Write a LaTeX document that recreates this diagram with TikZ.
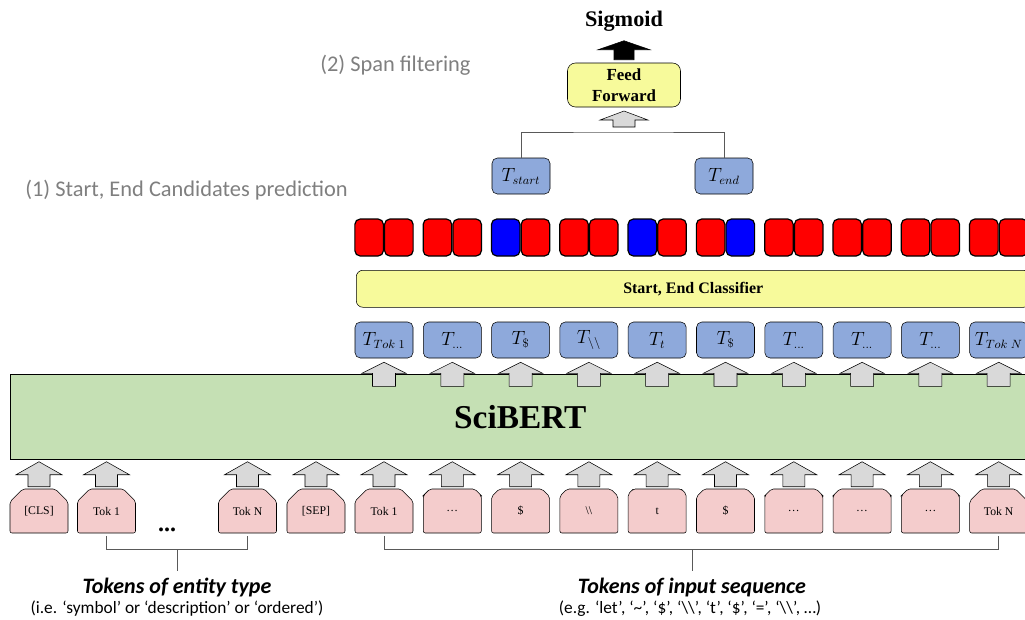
\documentclass[tikz,border=0pt]{standalone}
\usepackage{fontspec}
\setmainfont{Liberation Serif}
\newfontfamily\calib{Carlito}
\usetikzlibrary{shapes.misc,positioning}

\definecolor{bertgreen}{RGB}{197,224,180}
\definecolor{tokpink}{RGB}{244,204,204}
\definecolor{embblue}{RGB}{142,169,219}
\definecolor{clfyellow}{RGB}{247,250,155}
\definecolor{arrgray}{RGB}{217,217,217}
\definecolor{notegray}{RGB}{127,127,127}
\definecolor{brgray}{RGB}{89,89,89}

% block arrow: half shaft, half head, shaft length, total length
\tikzset{pics/blkarr/.style n args={4}{code={
  \draw[pic actions] (-#1,0) -- (-#1,-#3) -- (-#2,-#3) -- (0,-#4) -- (#2,-#3)
    -- (#1,-#3) -- (#1,0) -- cycle;}}}

\begin{document}
\begin{tikzpicture}[x=0.75pt,y=-0.75pt,
    tok/.style={chamfered rectangle,chamfered rectangle corners={north west,north east},
      chamfered rectangle sep=6pt,draw,fill=tokpink,rounded corners=1.5pt,
      minimum width=43.5pt,minimum height=33pt,inner sep=0pt,
      font=\fontsize{8.8}{10}\selectfont},
    emb/.style={rectangle,rounded corners=4pt,draw,fill=embblue,minimum
      width=43.5pt,minimum height=27pt,inner sep=0pt,font=\fontsize{13.5}{15}\selectfont},
    cell/.style={rectangle,rounded corners=4pt,draw,line width=0.9pt,minimum
      width=21.4pt,minimum height=27.75pt,inner sep=0pt},
    uparr/.style={draw,fill=arrgray,line join=miter},
    note/.style={font=\calib\fontsize{16.8}{20}\selectfont,text=notegray,inner sep=0pt}]

    \useasboundingbox (0,0) rectangle (1025,619);
    \clip (0,0) rectangle (1025,619);

    % the titles
    \node[note,anchor=west] (spanlbl) at (320,65) {(2) Span filtering};
    \node[note,anchor=west] (candlbl) at (25,190) {(1) Start, End Candidates prediction};

    % input tokens
    \node[tok] (cls) at (39,511) {[CLS]};
    \node[tok] (etok1) at (106.5,511) {Tok 1};
    \node[font=\bfseries\fontsize{18}{20}\selectfont] (edots) at (167,530) {...};
    \node[tok] (etokn) at (247.5,511) {Tok N};
    \node[tok] (sep) at (316,511) {[SEP]};
    \foreach \k/\lab in {0/Tok 1,1/\dots,2/\$,3/\textbackslash\textbackslash,4/t,
        5/\$,6/\dots,7/\dots,8/\dots,9/Tok N}
      \node[tok] (stok\k) at (384+68.3*\k,511) {\lab};

    \foreach \n in {cls,etok1,etokn,sep}
      \pic[uparr] at ([yshift=1.5pt]\n.north) {blkarr={11}{23}{12}{25}};
    \foreach \k in {0,...,9}
      \pic[uparr] at ([yshift=1.5pt]stok\k.north) {blkarr={11}{23}{12}{25}};

    % the encoder
    \node[draw,fill=bertgreen,anchor=north west,minimum width=765pt,minimum
      height=63.75pt,font=\bfseries\fontsize{25}{30}\selectfont] (bert) at (10,374) {SciBERT};

    \foreach \k/\lab in {0/{Tok\;1},1/\dots,2/\$,3/\backslash\backslash,4/t,
        5/\$,6/\dots,7/\dots,8/\dots,9/{Tok\;N}} {
      \node[emb] (emb\k) at (384+68.3*\k,340) {$T_{\lab}$};
      \pic[uparr] at ([yshift=-21pt]emb\k.south) {blkarr={11.5}{22}{13}{24}};
    }

    \node[draw,fill=clfyellow,rounded corners=5pt,anchor=north west,minimum
      width=505.5pt,minimum height=27.75pt,
      font=\bfseries\fontsize{12}{14}\selectfont] (clf) at (356,270) {Start, End Classifier};

    % start / end scores
    \foreach \k/\ca/\cb in {0/red/red,1/red/red,2/blue/red,3/red/red,4/blue/red,
        5/red/blue,6/red/red,7/red/red,8/red/red,9/red/red} {
      \node[cell,fill=\ca,anchor=east] (pl\k) at (384+68.3*\k,237.5) {};
      \node[cell,fill=\cb,right=0pt of pl\k] (pr\k) {};
    }

    % span filtering
    \node[emb] (tstart) at (521,176) {$T_{start}$};
    \node[emb] (tend) at (724,176) {$T_{end}$};
    \coordinate (join) at (624,132);
    \draw[brgray] (tstart.north) |- (join) -| (tend.north);

    \node[draw,fill=clfyellow,rounded corners=6pt,minimum width=84.75pt,minimum
      height=33pt,inner sep=0pt,align=center,
      font=\bfseries\fontsize{12.7}{15.75}\selectfont] (ff) at (624,85) {Feed\\Forward};
    \pic[uparr] at ([yshift=3.75pt]join) {blkarr={11}{24}{7}{16}};
    \pic[uparr,fill=black] at ([yshift=2.25pt]ff.north) {blkarr={10}{26}{10}{19}};
    \node[font=\bfseries\fontsize{16.7}{20}\selectfont] (sig) at (624,21) {Sigmoid};

    % brackets below the tokens
    \coordinate (ejoin) at (177,549);
    \coordinate (sjoin) at (692,549);
    \node[font=\calib\bfseries\itshape\fontsize{16.5}{20}\selectfont,inner sep=5pt]
      (etitle) at (177,587) {Tokens of entity type};
    \node[font=\calib\fontsize{13}{15}\selectfont] (esub) at (177,609)
      {(i.e. ‘symbol’ or ‘description’ or ‘ordered’)};
    \node[font=\calib\bfseries\itshape\fontsize{16.5}{20}\selectfont,inner sep=5pt]
      (stitle) at (692,587) {Tokens of input sequence};
    \node[font=\calib\fontsize{13}{15}\selectfont] (ssub) at (690,609)
      {(e.g. ‘let’, ‘\textasciitilde’, ‘\$’, ‘\textbackslash\textbackslash’, ‘t’, ‘\$’, ‘=’, ‘\textbackslash\textbackslash’, …)};
    \draw[brgray] ([yshift=-2pt]etok1.south) |- (ejoin) -| ([yshift=-2pt]etokn.south);
    \draw[brgray] (ejoin) -- (etitle.north);
    \draw[brgray] ([yshift=-2pt]stok0.south) |- (sjoin) -| ([yshift=-2pt]stok9.south);
    \draw[brgray] (sjoin) -- (stitle.north);

  \end{tikzpicture}
\end{document}
